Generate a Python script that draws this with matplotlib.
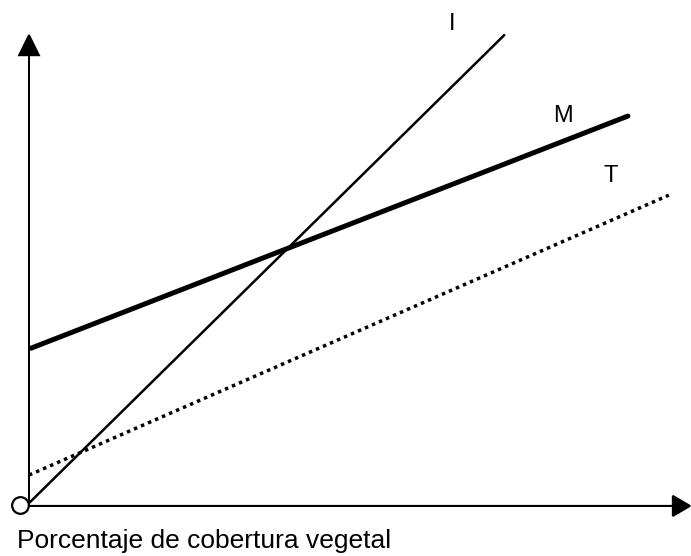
import matplotlib
matplotlib.use("Agg")
import matplotlib.pyplot as plt

plt.rcParams["font.family"] = ["Liberation Sans", "DejaVu Sans"]

# cover (%) against the three curves, axis arrows end at 100
cover_I = [0, 71.9]
value_I = [0, 100]
cover_M = [0.3, 90.6]
value_M = [33.1, 82.7]
cover_T = [0, 96.8]
value_T = [6.0, 65.8]

line_labels = ["I", "M", "T"]
label_pos = [(64.0, 102.3), (80.8, 82.8), (88.0, 70.0)]
xlabel = "Porcentaje de cobertura vegetal"

fig = plt.figure(figsize=(6.91, 5.56), dpi=100)
ax = fig.add_axes([0, 0, 1, 1])
ax.set_xlim(-4.39, 100.15)
ax.set_ylim(-11.3, 107.5)
ax.axis("off")

# axes with filled arrow heads
ax.arrow(0, 0, 0, 100, width=0.0, head_width=3.0, head_length=4.3,
         length_includes_head=True, fc="black", ec="black", lw=1.4)
ax.arrow(0, -0.6, 100, 0, width=0.0, head_width=4.3, head_length=2.6,
         length_includes_head=True, fc="black", ec="black", lw=1.4)

ax.plot(cover_I, value_I, color="black", lw=1.8, solid_capstyle="round")
ax.plot(cover_M, value_M, color="black", lw=3.6, solid_capstyle="round")
ax.plot(cover_T, value_T, color="black", lw=2.5, linestyle=(0, (1, 1.2)))

# open circle at the origin
ax.plot([-1.4], [-0.5], marker="o", markersize=12, markerfacecolor="white",
        markeredgecolor="black", markeredgewidth=1.6, zorder=5)

for name, (x, y) in zip(line_labels, label_pos):
    ax.text(x, y, name, fontsize=17, ha="center", va="center")

ax.text(-1.8, -8.0, xlabel, fontsize=19, ha="left", va="center")

fig.savefig("out.png", dpi=100)
